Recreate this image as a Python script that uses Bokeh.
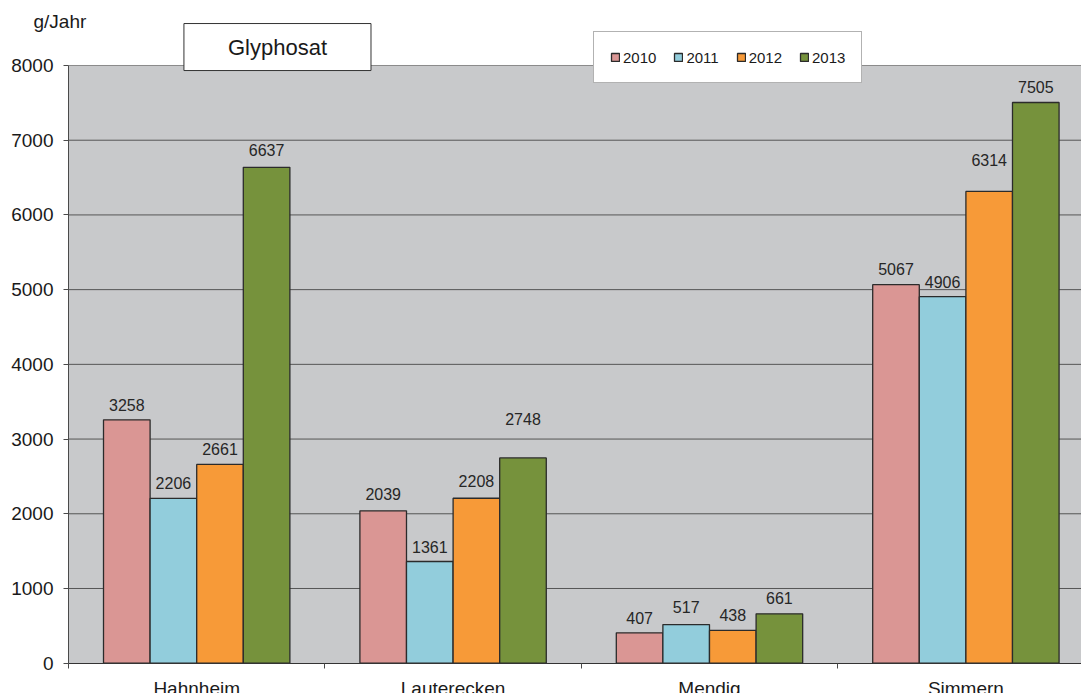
from bokeh.plotting import figure
from bokeh.models import (ColumnDataSource, Range1d, FixedTicker, Label,
                          Legend, LegendItem, BoxAnnotation)
from bokeh.transform import dodge
from bokeh.embed import file_html
from bokeh.resources import INLINE

# ---- data ----
sites = ["Hahnheim", "Lauterecken", "Mendig", "Simmern"]
years = ["2010", "2011", "2012", "2013"]
v2010 = [3258, 2039, 407, 5067]
v2011 = [2206, 1361, 517, 4906]
v2012 = [2661, 2208, 438, 6314]
v2013 = [6637, 2748, 661, 7505]
y_ticks = [0, 1000, 2000, 3000, 4000, 5000, 6000, 7000, 8000]
y_max = 8000
unit_label = "g/Jahr"
title_text = "Glyphosat"

# ---- styling ----
colors = ["#da9694", "#92cddc", "#f79a38", "#76923c"]
offsets = [-0.2726, -0.0909, 0.0909, 0.2726]
bar_w = 0.1817
# pixel lift of each value label above its bar (per year, per site)
lift = {
    "2010": [15, 17, 15, 16],
    "2011": [15, 15, 18, 15],
    "2012": [15, 17, 15, 31],
    "2013": [17, 39, 16, 15],
}
FONT = "Liberation Sans"
TXT = "#262626"
W, H = 1081, 693

series = [v2010, v2011, v2012, v2013]
src = ColumnDataSource(dict(
    idx=list(range(len(sites))),
    site=sites,
    **{y: vals for y, vals in zip(years, series)},
    **{"lab" + y: [str(v) for v in vals] for y, vals in zip(years, series)},
    **{"off" + y: [-l for l in lift[y]] for y in years},
))

n = len(sites)
x_lo, x_hi = -0.5, n - 0.5
# visible window: the plot area begins 68px from the left and is cut at the right edge
p = figure(width=W, height=H, output_backend="svg", toolbar_location=None,
           x_range=Range1d(-0.7652, 3.4509), y_range=Range1d(-405.6, 8870),
           min_border=0, background_fill_color="white",
           border_fill_color="white", outline_line_color=None)

# grey plot area
p.add_layout(BoxAnnotation(left=x_lo, right=x_hi, bottom=0, top=y_max,
                           fill_color="#c8c9cb", fill_alpha=1,
                           line_color=None, level="underlay"))

# horizontal grid lines
grid_src = ColumnDataSource(dict(y=y_ticks[1:-1],
                                 x0=[x_lo] * (len(y_ticks) - 2),
                                 x1=[x_hi] * (len(y_ticks) - 2)))
p.segment(x0="x0", x1="x1", y0="y", y1="y", source=grid_src,
          line_color="#555555", line_width=1)
p.segment(x0=[x_lo], x1=[x_hi], y0=[y_max], y1=[y_max],
          line_color="#8a8a8a", line_width=1)

renderers = []
for y, c, off in zip(years, colors, offsets):
    r = p.vbar(x=dodge("idx", off, range=p.x_range), top=y, width=bar_w,
               source=src, fill_color=c, line_color="#2b2b2b", line_width=1.3)
    renderers.append(r)
    p.text(x=dodge("idx", off, range=p.x_range), y=y, text="lab" + y,
           y_offset="off" + y, source=src, text_align="center",
           text_baseline="middle", text_font_size="16px",
           text_font={"value": FONT}, text_color=TXT)

p.xgrid.visible = False
p.ygrid.visible = False

# y axis
ya = p.yaxis[0]
ya.fixed_location = x_lo
ya.bounds = (0, y_max)
ya.ticker = FixedTicker(ticks=y_ticks)
ya.major_label_text_font_size = "19px"
ya.major_label_text_font = FONT
ya.major_label_text_color = "#1a1a1a"
ya.major_tick_out = 5
ya.major_tick_in = 0
ya.minor_tick_out = 0
ya.minor_tick_in = 0
ya.major_label_standoff = 10
ya.axis_line_color = "#4a4a4a"
ya.major_tick_line_color = "#4a4a4a"

# x axis: labels at the site centres, small ticks between the sites
xa = p.xaxis[0]
xa.fixed_location = 0
xa.bounds = (x_lo, x_hi)
xa.ticker = FixedTicker(ticks=list(range(n)),
                        minor_ticks=[i - 0.5 for i in range(n + 1)])
xa.major_label_overrides = {i: s for i, s in enumerate(sites)}
xa.major_label_text_font_size = "19px"
xa.major_label_text_font = FONT
xa.major_label_text_color = "#1a1a1a"
xa.major_label_standoff = 10
xa.major_tick_out = 0
xa.major_tick_in = 0
xa.minor_tick_out = 5
xa.minor_tick_in = 0
xa.axis_line_color = "#333333"
xa.minor_tick_line_color = "#4a4a4a"

# unit label
p.add_layout(Label(x=-0.6365, y=8590, text=unit_label, text_align="left",
                   text_baseline="alphabetic", text_font_size="19px",
                   text_font=FONT, text_color="#1a1a1a"))

# title box
p.add_layout(Label(x=0.315, y=8247, text=title_text, text_align="center",
                   text_baseline="middle", text_font_size="22px",
                   text_font=FONT, text_color="#1a1a1a",
                   background_fill_color="white", border_line_color="#333333",
                   border_line_width=1,
                   padding=dict(left=44, right=44, top=11, bottom=11)))

legend = Legend(items=[LegendItem(label=y, renderers=[r])
                       for y, r in zip(years, renderers)],
                location=(593, 610), orientation="horizontal",
                glyph_width=10, glyph_height=10, label_standoff=3, spacing=17,
                padding=16, margin=0, label_height=18,
                label_text_font_size="15px",
                label_text_font=FONT, label_text_color="#1a1a1a",
                border_line_color="#666666", border_line_width=1,
                background_fill_color="white", background_fill_alpha=1)
p.add_layout(legend, "center")

open("out.html", "w").write(file_html(p, INLINE))
